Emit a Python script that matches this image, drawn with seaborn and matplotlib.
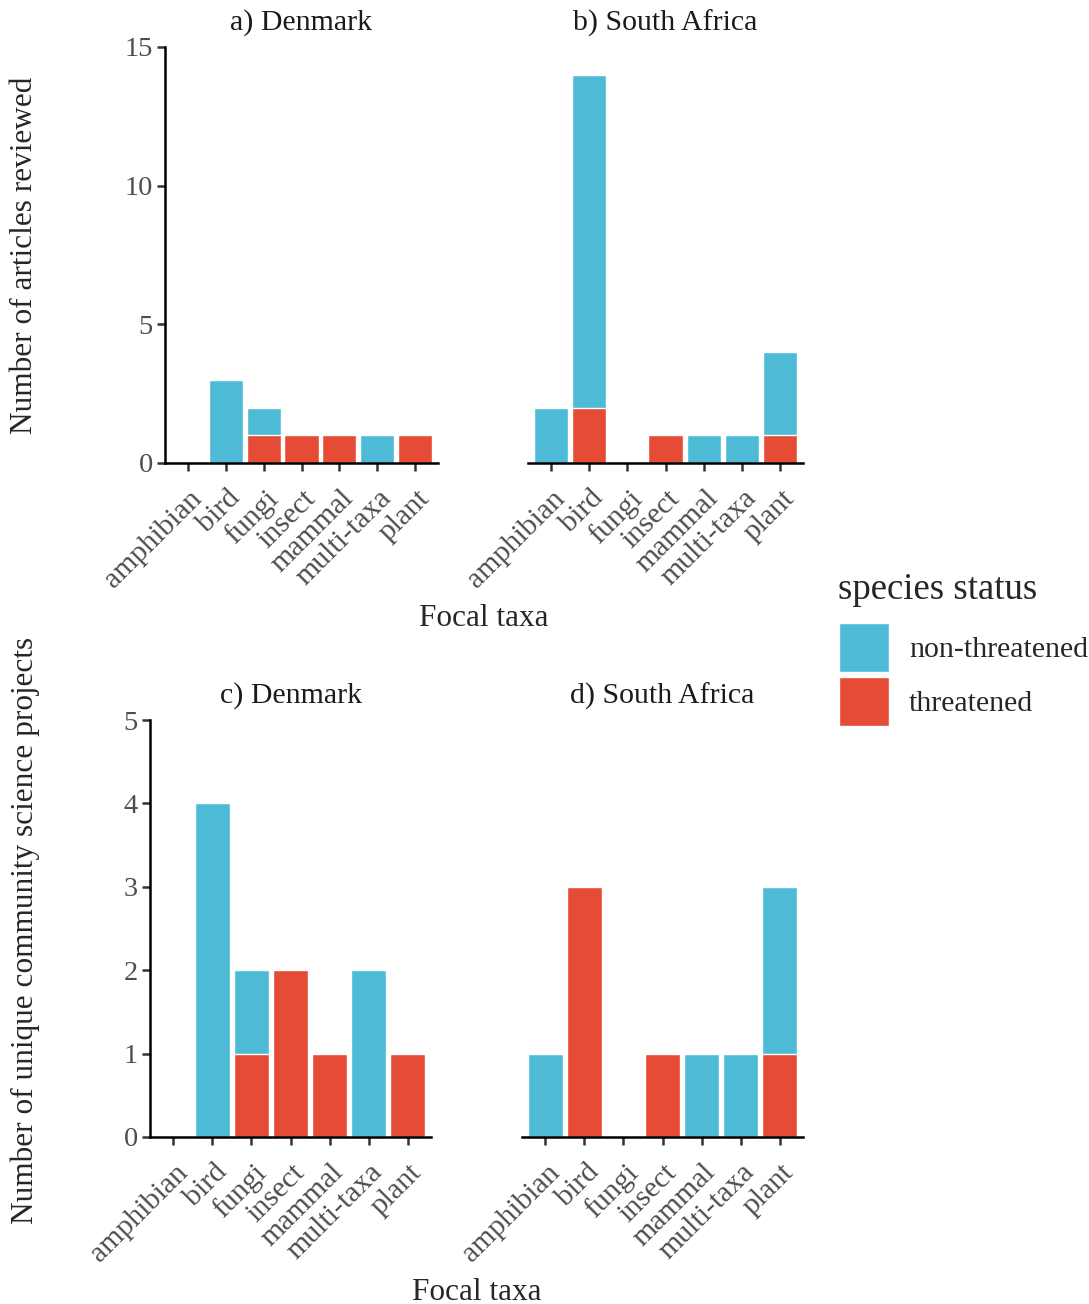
import numpy as np
import matplotlib
matplotlib.use("Agg")
import matplotlib.pyplot as plt
import matplotlib.transforms as mtransforms
from matplotlib.patches import Patch
import seaborn as sns

# ---- data -------------------------------------------------------------
taxa = ["amphibian", "bird", "fungi", "insect", "mammal", "multi-taxa", "plant"]

# number of articles reviewed
articles_dk_nonthreatened = [0, 3, 1, 0, 0, 1, 0]
articles_dk_threatened = [0, 0, 1, 1, 1, 0, 1]
articles_za_nonthreatened = [2, 12, 0, 0, 1, 1, 3]
articles_za_threatened = [0, 2, 0, 1, 0, 0, 1]

# number of unique community science projects
projects_dk_nonthreatened = [0, 4, 1, 0, 0, 2, 0]
projects_dk_threatened = [0, 0, 1, 2, 1, 0, 1]
projects_za_nonthreatened = [1, 0, 0, 0, 1, 1, 2]
projects_za_threatened = [0, 3, 0, 1, 0, 0, 1]

panel_titles = ["a) Denmark", "b) South Africa", "c) Denmark", "d) South Africa"]
status_labels = ["non-threatened", "threatened"]

# ---- style ------------------------------------------------------------
CYAN = "#4DBBD5"
RED = "#E64B35"
TICK_GREY = "#4D4D4D"

sns.set_theme(style="ticks")
plt.rcParams["font.family"] = ["Liberation Serif", "DejaVu Serif"]
plt.rcParams["axes.linewidth"] = 1.8

W, H = 1089, 1304
fig = plt.figure(figsize=(W / 100, H / 100), dpi=100)


def px_axes(x0, y_top, x1, y_bottom):
    return fig.add_axes([x0 / W, 1 - y_bottom / H, (x1 - x0) / W, (y_bottom - y_top) / H])


panels = [
    (px_axes(165, 47, 438, 463), articles_dk_nonthreatened, articles_dk_threatened, 15, [0, 5, 10, 15], True),
    (px_axes(528, 47, 803, 463), articles_za_nonthreatened, articles_za_threatened, 15, [0, 5, 10, 15], False),
    (px_axes(150, 720, 431, 1137), projects_dk_nonthreatened, projects_dk_threatened, 5, [0, 1, 2, 3, 4, 5], True),
    (px_axes(522, 720, 803, 1137), projects_za_nonthreatened, projects_za_threatened, 5, [0, 1, 2, 3, 4, 5], False),
]

label_offset = mtransforms.ScaledTranslation(1 / 100, -10 / 100, fig.dpi_scale_trans)

for (ax, nonthr, thr, ymax, yticks, show_y), title in zip(panels, panel_titles):
    total = np.add(nonthr, thr)
    # stacked bars: full total in cyan, threatened share drawn over it in red
    sns.barplot(x=taxa, y=total, order=taxa, color=CYAN, saturation=1, width=0.9,
                edgecolor="white", linewidth=1, ax=ax)
    sns.barplot(x=taxa, y=thr, order=taxa, color=RED, saturation=1, width=0.9,
                edgecolor="white", linewidth=1, ax=ax)
    ax.set_xlim(-0.6, 6.6)
    ax.set_ylim(0, ymax)
    ax.set_xlabel("")
    ax.set_ylabel("")
    sns.despine(ax=ax, left=not show_y)
    for s in ax.spines.values():
        s.set_color("black")
        s.set_linewidth(1.8)
        s.set_zorder(5)
    ax.tick_params(axis="both", length=5.8, width=1.8, color="#333333",
                   labelcolor=TICK_GREY, labelsize=20.5, pad=3)
    ax.set_xticks(range(len(taxa)))
    ax.set_xticklabels(taxa, rotation=45, ha="right", va="top",
                       rotation_mode="anchor", fontsize=21.5, color=TICK_GREY)
    for lab in ax.get_xticklabels():
        lab.set_transform(lab.get_transform() + label_offset)
    if show_y:
        ax.set_yticks(yticks)
        ax.set_yticklabels([str(v) for v in yticks])
    else:
        ax.set_yticks([])
        ax.tick_params(axis="y", left=False, labelleft=False)
    bbox = ax.get_position()
    fig.text((bbox.x0 + bbox.x1) / 2, bbox.y1 + 24 / H, title, ha="center",
             va="center", fontsize=21.5, color="#1A1A1A")

# axis titles
fig.text(25 / W, 1 - 255 / H, "Number of articles reviewed", rotation=90,
         ha="center", va="center", fontsize=22.5)
fig.text(25 / W, 1 - 930 / H, "Number of unique community science projects", rotation=90,
         ha="center", va="center", fontsize=22.5)
fig.text(484 / W, 1 - 618 / H, "Focal taxa", ha="center", va="center", fontsize=22.5)
fig.text(477 / W, 1 - 1292 / H, "Focal taxa", ha="center", va="center", fontsize=22.5)

# legend
fig.text(838 / W, 1 - 590 / H, "species status", ha="left", va="center", fontsize=26.5)
handles = [Patch(facecolor=CYAN, edgecolor="white", linewidth=1),
           Patch(facecolor=RED, edgecolor="white", linewidth=1)]
fig.legend(handles, status_labels,
           loc="upper left", bbox_to_anchor=(839 / W, 1 - 623 / H),
           frameon=False, fontsize=21.5,
           handlelength=1.67, handleheight=2.145, labelspacing=0.17,
           handletextpad=0.67, borderpad=0, borderaxespad=0)

fig.savefig("out.png", dpi=100, facecolor="white")
